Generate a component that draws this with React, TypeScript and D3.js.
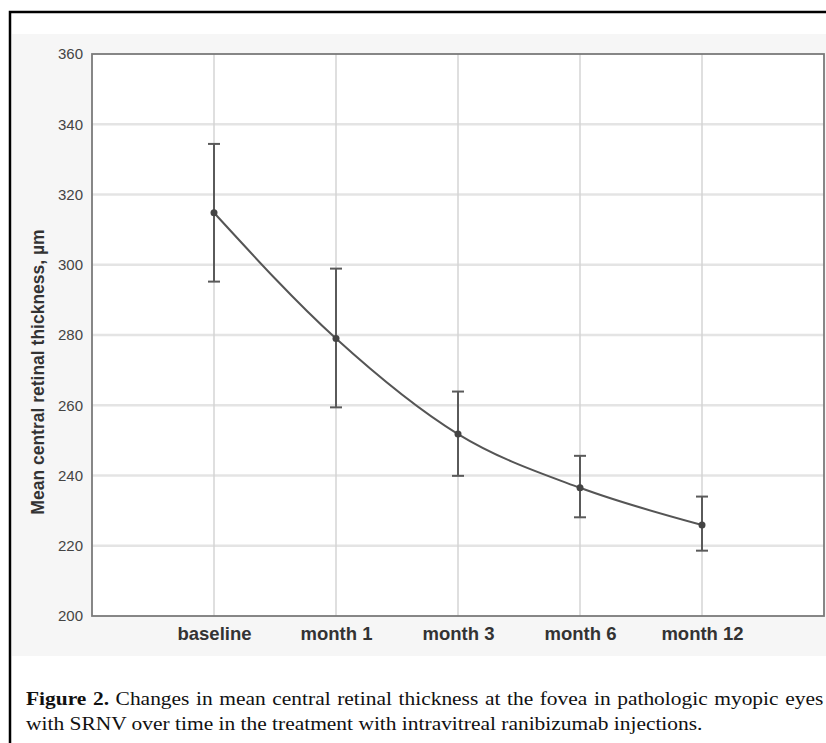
import React, { useEffect, useRef } from 'react';
import * as d3 from 'd3';

// time points and CRT (mean with upper/lower error bar ends)
const timepoints = ['baseline', 'month 1', 'month 3', 'month 6', 'month 12'];
const meanCRT = [314.8, 279.0, 251.8, 236.5, 225.9];
const upperCRT = [334.4, 298.9, 263.9, 245.6, 234.0];
const lowerCRT = [295.2, 259.4, 239.9, 228.1, 218.6];
const yTicks = [200, 220, 240, 260, 280, 300, 320, 340, 360];

const captionLine1 = ' Changes in mean central retinal thickness at the fovea in pathologic myopic eyes';
const captionLine2 = 'with SRNV over time in the treatment with intravitreal ranibizumab injections.';

const W = 826;
const H = 743;

function App() {
    const ref = useRef<SVGSVGElement>(null);

    useEffect(() => {
        const svg = d3.select(ref.current);
        svg.selectAll('*').remove();

        const left = 92, right = 824, top = 54, bottom = 616;
        const sans = 'Liberation Sans, Arial, sans-serif';

        // light grey panel behind the chart (scanned figure look)
        svg.append('rect')
            .attr('x', 12).attr('y', 34)
            .attr('width', W - 12).attr('height', 622)
            .attr('fill', '#f6f6f6');

        // outer frame of the figure box
        svg.append('path')
            .attr('d', `M10,${H + 5} L10,12 L${W + 5},12`)
            .attr('fill', 'none')
            .attr('stroke', '#000')
            .attr('stroke-width', 2.5);

        var x = d3.scalePoint()
            .domain(timepoints)
            .range([left, right])
            .padding(1);

        var y = d3.scaleLinear()
            .domain([200, 360])
            .range([bottom, top]);

        svg.append('rect')
            .attr('x', left).attr('y', top)
            .attr('width', right - left).attr('height', bottom - top)
            .attr('fill', '#fff');

        // grid
        svg.append('g')
            .selectAll('line')
            .data(yTicks.slice(1, -1))
            .enter().append('line')
            .attr('x1', left).attr('x2', right)
            .attr('y1', d => y(d)).attr('y2', d => y(d))
            .attr('stroke', '#e4e4e4')
            .attr('stroke-width', 2.5);

        svg.append('g')
            .selectAll('line')
            .data(timepoints)
            .enter().append('line')
            .attr('x1', d => x(d)!).attr('x2', d => x(d)!)
            .attr('y1', top).attr('y2', bottom)
            .attr('stroke', '#d4d4d4')
            .attr('stroke-width', 1.5);

        svg.append('rect')
            .attr('x', left).attr('y', top)
            .attr('width', right - left).attr('height', bottom - top)
            .attr('fill', 'none')
            .attr('stroke', '#7a7a7a')
            .attr('stroke-width', 1.8);

        // y axis
        const yAxis = svg.append('g')
            .attr('transform', `translate(${left},0)`)
            .call(d3.axisLeft(y).tickValues(yTicks).tickSize(0).tickPadding(9));
        yAxis.select('.domain').remove();
        yAxis.selectAll('text')
            .attr('font-family', sans)
            .attr('font-size', 15)
            .attr('fill', '#444');

        // x axis labels
        const xAxis = svg.append('g')
            .attr('transform', `translate(0,${bottom})`)
            .call(d3.axisBottom(x).tickSize(0).tickPadding(11));
        xAxis.select('.domain').remove();
        xAxis.selectAll('text')
            .attr('font-family', sans)
            .attr('font-size', 18.5)
            .attr('font-weight', 'bold')
            .attr('fill', '#333');

        svg.append('text')
            .attr('transform', `translate(44,372) rotate(-90)`)
            .attr('text-anchor', 'middle')
            .attr('font-family', sans)
            .attr('font-size', 17.5)
            .attr('font-weight', 'bold')
            .attr('fill', '#333')
            .text('Mean central retinal thickness, µm');

        // error bars
        const bars = svg.append('g')
            .attr('stroke', '#5a5a5a')
            .attr('stroke-width', 2);
        timepoints.forEach(function (t, i) {
            const cx = x(t)!;
            bars.append('line')
                .attr('x1', cx).attr('x2', cx)
                .attr('y1', y(upperCRT[i])).attr('y2', y(lowerCRT[i]));
            bars.append('line')
                .attr('x1', cx - 6).attr('x2', cx + 6)
                .attr('y1', y(upperCRT[i])).attr('y2', y(upperCRT[i]));
            bars.append('line')
                .attr('x1', cx - 6).attr('x2', cx + 6)
                .attr('y1', y(lowerCRT[i])).attr('y2', y(lowerCRT[i]));
        });

        const line = d3.line<number>()
            .x((d, i) => x(timepoints[i])!)
            .y(d => y(d))
            .curve(d3.curveMonotoneX);

        svg.append('path')
            .datum(meanCRT)
            .attr('d', line)
            .attr('fill', 'none')
            .attr('stroke', '#555')
            .attr('stroke-width', 2);

        svg.selectAll('.dot')
            .data(meanCRT)
            .enter().append('circle')
            .attr('class', 'dot')
            .attr('cx', (d, i) => x(timepoints[i])!)
            .attr('cy', d => y(d))
            .attr('r', 3.5)
            .attr('fill', '#444');

        // caption: justified first line, slightly wide serif like the scan
        const capX = 26;
        const sx = 1.1;
        const cap1 = svg.append('text')
            .attr('transform', `translate(${capX},705) scale(${sx},1)`)
            .attr('font-family', 'Liberation Serif, Times New Roman, serif')
            .attr('font-size', 19.5)
            .attr('fill', '#111');
        cap1.append('tspan').attr('font-weight', 'bold').text('Figure 2.');
        cap1.append('tspan').text(captionLine1);

        svg.append('text')
            .attr('transform', `translate(${capX},730) scale(${sx},1)`)
            .attr('font-family', 'Liberation Serif, Times New Roman, serif')
            .attr('font-size', 19.5)
            .attr('fill', '#111')
            .text(captionLine2);

        const w1 = (cap1.node() as SVGTextElement).getComputedTextLength();
        const target = (822 - capX) / sx;
        const spaces = captionLine1.split(' ').length - 1;
        if (w1 < target) cap1.attr('word-spacing', (target - w1) / spaces);
    }, []);

    return (
        <svg ref={ref} width={W} height={H} style={{ position: 'absolute', left: 0, top: 0 }} />
    );
}

export default App;
